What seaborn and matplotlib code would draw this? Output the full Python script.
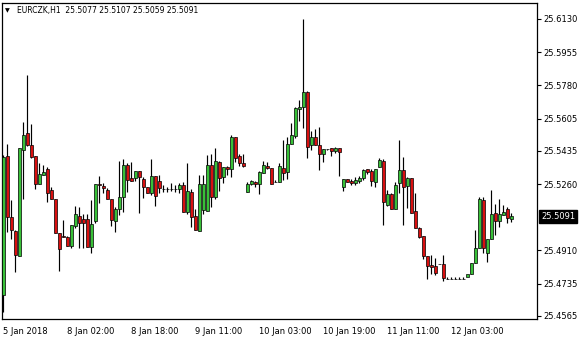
import matplotlib
matplotlib.use("Agg")
import matplotlib.pyplot as plt
import seaborn as sns
import numpy as np
import pandas as pd

symbol = "EURCZK,H1"

opens = [25.4675, 25.5408, 25.5085, 25.5013, 25.4881, 25.5439, 25.5528, 25.5466, 25.5408, 25.5259,
         25.5309, 25.5338, 25.5229, 25.5180, 25.5001, 25.4986, 25.4983, 25.4935, 25.5041, 25.5092,
         25.5076, 25.5076, 25.4930, 25.5067, 25.5259, 25.5250, 25.5229, 25.5180, 25.5067, 25.5127,
         25.5190, 25.5360, 25.5290, 25.5290, 25.5329, 25.5285, 25.5243, 25.5214, 25.5302, 25.5276,
         25.5236, 25.5236, 25.5236, 25.5232, 25.5232, 25.5255, 25.5114, 25.5217, 25.5092, 25.5014,
         25.5123, 25.5118, 25.5359, 25.5190, 25.5375, 25.5296, 25.5348, 25.5338, 25.5506, 25.5408,
         25.5369, 25.5220, 25.5260, 25.5272, 25.5259, 25.5317, 25.5355, 25.5343, 25.5272, 25.5272,
         25.5343, 25.5325, 25.5470, 25.5513, 25.5654, 25.5668, 25.5744, 25.5466, 25.5506, 25.5466,
         25.5418, 25.5445, 25.5448, 25.5436, 25.5448, 25.5246, 25.5285, 25.5276, 25.5267, 25.5278,
         25.5290, 25.5338, 25.5330, 25.5269, 25.5348, 25.5382, 25.5150, 25.5206, 25.5127, 25.5267,
         25.5334, 25.5250, 25.5290, 25.5118, 25.5027, 25.4986, 25.4881, 25.4833, 25.4828, 25.4837,
         25.4837, 25.4760, 25.4760, 25.4760, 25.4760, 25.4760, 25.4772, 25.4784, 25.4846, 25.4921,
         25.5176, 25.4898, 25.4969, 25.5106, 25.5067, 25.5097, 25.5127, 25.5077]

highs = [25.5413, 25.5471, 25.5176, 25.5018, 25.5450, 25.5589, 25.5835, 25.5577, 25.5408, 25.5369,
         25.5360, 25.5352, 25.5243, 25.5180, 25.5002, 25.5071, 25.4986, 25.5044, 25.5144, 25.5138,
         25.5101, 25.5102, 25.5176, 25.5260, 25.5302, 25.5267, 25.5238, 25.5180, 25.5138, 25.5382,
         25.5390, 25.5373, 25.5376, 25.5329, 25.5329, 25.5296, 25.5245, 25.5390, 25.5302, 25.5308,
         25.5255, 25.5243, 25.5264, 25.5255, 25.5264, 25.5269, 25.5369, 25.5232, 25.5127, 25.5308,
         25.5308, 25.5413, 25.5418, 25.5448, 25.5382, 25.5348, 25.5355, 25.5517, 25.5506, 25.5418,
         25.5418, 25.5272, 25.5281, 25.5276, 25.5329, 25.5382, 25.5378, 25.5345, 25.5281, 25.5369,
         25.5492, 25.5506, 25.5580, 25.5668, 25.5703, 25.6130, 25.5750, 25.5541, 25.5550, 25.5562,
         25.5443, 25.5445, 25.5448, 25.5457, 25.5448, 25.5285, 25.5285, 25.5285, 25.5299, 25.5302,
         25.5338, 25.5338, 25.5338, 25.5338, 25.5396, 25.5390, 25.5229, 25.5211, 25.5272, 25.5492,
         25.5404, 25.5299, 25.5290, 25.5211, 25.5035, 25.4986, 25.4881, 25.4886, 25.4872, 25.4837,
         25.4886, 25.4769, 25.4769, 25.4769, 25.4769, 25.4769, 25.4772, 25.4842, 25.5018, 25.5190,
         25.5190, 25.4969, 25.5229, 25.5155, 25.5180, 25.5150, 25.5138, 25.5107]

lows = [25.4586, 25.5009, 25.4969, 25.4798, 25.4881, 25.5180, 25.5461, 25.5397, 25.5232, 25.5259,
        25.5308, 25.5167, 25.5180, 25.5001, 25.4803, 25.4979, 25.4934, 25.4925, 25.5030, 25.4921,
        25.4925, 25.4928, 25.4895, 25.5056, 25.5159, 25.5211, 25.5180, 25.5039, 25.5006, 25.5097,
        25.5114, 25.5220, 25.5276, 25.5278, 25.5109, 25.5185, 25.5213, 25.5202, 25.5144, 25.5211,
        25.5220, 25.5220, 25.5225, 25.5220, 25.5211, 25.5111, 25.5101, 25.5035, 25.5018, 25.5014,
        25.5102, 25.5118, 25.5141, 25.5180, 25.5225, 25.5267, 25.5308, 25.5299, 25.5378, 25.5355,
        25.5348, 25.5220, 25.5255, 25.5246, 25.5206, 25.5317, 25.5338, 25.5260, 25.5272, 25.5272,
        25.5281, 25.5285, 25.5470, 25.5504, 25.5594, 25.5554, 25.5396, 25.5439, 25.5466, 25.5334,
        25.5378, 25.5439, 25.5408, 25.5425, 25.5302, 25.5225, 25.5272, 25.5255, 25.5255, 25.5264,
        25.5281, 25.5313, 25.5250, 25.5246, 25.5348, 25.5044, 25.5144, 25.5127, 25.5127, 25.5211,
        25.5044, 25.5135, 25.5109, 25.5027, 25.4974, 25.4863, 25.4758, 25.4786, 25.4781, 25.4837,
        25.4751, 25.4760, 25.4760, 25.4760, 25.4760, 25.4760, 25.4772, 25.4784, 25.4846, 25.4921,
        25.4898, 25.4851, 25.4969, 25.4992, 25.5035, 25.5097, 25.5056, 25.5059]

closes = [25.5404, 25.5085, 25.5018, 25.4885, 25.5448, 25.5519, 25.5466, 25.5401, 25.5259, 25.5311,
          25.5324, 25.5214, 25.5180, 25.5001, 25.4916, 25.4979, 25.4935, 25.5043, 25.5101, 25.5056,
          25.5056, 25.4930, 25.5050, 25.5259, 25.5253, 25.5238, 25.5180, 25.5071, 25.5127, 25.5190,
          25.5360, 25.5281, 25.5276, 25.5329, 25.5296, 25.5243, 25.5214, 25.5302, 25.5197, 25.5238,
          25.5236, 25.5236, 25.5236, 25.5232, 25.5255, 25.5111, 25.5223, 25.5088, 25.5018, 25.5259,
          25.5259, 25.5359, 25.5190, 25.5382, 25.5290, 25.5348, 25.5338, 25.5506, 25.5399, 25.5369,
          25.5357, 25.5260, 25.5276, 25.5259, 25.5322, 25.5360, 25.5343, 25.5260, 25.5272, 25.5355,
          25.5317, 25.5470, 25.5517, 25.5659, 25.5668, 25.5744, 25.5457, 25.5506, 25.5466, 25.5418,
          25.5443, 25.5445, 25.5436, 25.5450, 25.5431, 25.5285, 25.5272, 25.5264, 25.5281, 25.5290,
          25.5334, 25.5325, 25.5278, 25.5338, 25.5387, 25.5167, 25.5206, 25.5127, 25.5255, 25.5334,
          25.5246, 25.5290, 25.5109, 25.5027, 25.4983, 25.4881, 25.4828, 25.4821, 25.4790, 25.4837,
          25.4763, 25.4760, 25.4760, 25.4760, 25.4760, 25.4760, 25.4784, 25.4842, 25.4921, 25.5180,
          25.4921, 25.4969, 25.5102, 25.5067, 25.5102, 25.5114, 25.5080, 25.5091]

tick_candles = [0, 16, 32, 48, 64, 80, 96, 112]
tick_labels = ["5 Jan 2018", "8 Jan 02:00", "8 Jan 18:00", "9 Jan 11:00",
               "10 Jan 03:00", "10 Jan 19:00", "11 Jan 11:00", "12 Jan 03:00"]
price_ticks = [25.6130, 25.5955, 25.5780, 25.5605, 25.5435, 25.5260, 25.4910, 25.4735, 25.4565]

df = pd.DataFrame({"open": opens, "high": highs, "low": lows, "close": closes})
df["idx"] = np.arange(len(df))
df["up"] = df["close"] >= df["open"]

sns.set_theme(style="white")
plt.rcParams["font.family"] = ["DejaVu Sans"]

W, H = 580, 340
fig = plt.figure(figsize=(W / 100, H / 100), dpi=100)
ax_left, ax_right, ax_top, ax_bottom = 2, 537, 3, 319
ax = fig.add_axes([ax_left / W, 1 - ax_bottom / H, (ax_right - ax_left) / W, (ax_bottom - ax_top) / H])
ax.set_facecolor("white")

green = "#38C038"
red = "#D81010"

ax.vlines(df["idx"], df["low"], df["high"], color="black", linewidth=0.85, zorder=2)
body_bottom = np.minimum(df["open"], df["close"])
body_h = np.abs(df["close"] - df["open"])
colors = [green if u else red for u in df["up"]]
ax.bar(df["idx"], body_h, bottom=body_bottom, width=0.62, color=colors,
       edgecolor="black", linewidth=0.5, zorder=3)

ax.set_xlim(-0.33, 133.4)
ax.set_ylim(25.4549, 25.6214)

for s in ax.spines.values():
    s.set_visible(True)
    s.set_color("black")
    s.set_linewidth(0.9)

ax.yaxis.tick_right()
ax.set_yticks(price_ticks)
ax.set_yticklabels([f"{v:.4f}" for v in price_ticks])
ax.tick_params(axis="y", direction="out", length=3, width=0.8, colors="black",
               labelsize=6, pad=1.5)
ax.set_xticks(tick_candles)
ax.set_xticklabels(tick_labels)
ax.tick_params(axis="x", direction="out", length=4, width=0.8, colors="black",
               labelsize=6, pad=1.5)
for lab in ax.get_xticklabels():
    lab.set_horizontalalignment("left")

last = closes[-1]
ax.text(1.0 + 4 / (ax_right - ax_left), last, f"{last:.4f}", transform=ax.get_yaxis_transform(),
        ha="left", va="center", fontsize=6, color="white",
        bbox=dict(boxstyle="square,pad=0.25", facecolor="black", edgecolor="black"))

ax.text(0.006, 0.975, "▼", transform=ax.transAxes, fontsize=4.5, ha="left", va="center", color="black")
ax.text(0.028, 0.975, f"{symbol}  {opens[-1]:.4f} {highs[-1]:.4f} {lows[-1]:.4f} {closes[-1]:.4f}",
        transform=ax.transAxes, fontsize=5.5, ha="left", va="center", color="black")

fig.savefig("out.png", dpi=100)
